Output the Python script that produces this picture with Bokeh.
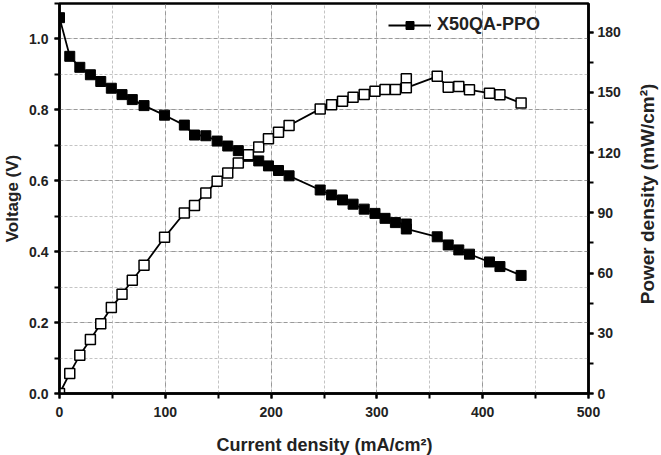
import math
from bokeh.plotting import figure
from bokeh.layouts import row, column
from bokeh.models import (Range1d, LinearAxis, SingleIntervalTicker, Legend,
                          LegendItem, ColumnDataSource, PrintfTickFormatter)
from bokeh.core.properties import value
from bokeh.embed import file_html
from bokeh.resources import INLINE

# ---- data ----
current_density = [0, 9.7, 19.2, 29.2, 39, 49, 59.1, 68.8, 79.9, 99.3, 118, 127.6,
                   138.3, 149, 159, 169, 178.5, 188.3, 197.5, 207, 217, 246.4,
                   257.2, 267.5, 277.5, 288, 298.2, 307.7, 317.5, 327.8, 327.8,
                   357, 367.4, 377.4, 387.5, 406.4, 416.3, 436.3]
voltage = [1.06, 0.951, 0.920, 0.899, 0.880, 0.861, 0.843, 0.829, 0.812, 0.785,
           0.757, 0.729, 0.727, 0.712, 0.698, 0.685, 0.669, 0.656, 0.642, 0.629,
           0.614, 0.574, 0.560, 0.546, 0.534, 0.520, 0.508, 0.494, 0.482, 0.478,
           0.464, 0.442, 0.419, 0.405, 0.393, 0.371, 0.358, 0.333]
power_density = [0, 10, 19.1, 26.9, 34.8, 42.8, 49.4, 56.4, 63.9, 77.8, 89.9, 93.7,
                 99.9, 105.8, 109.8, 114.8, 119, 122.8, 126.9, 130.2, 133.5, 141.8,
                 143.8, 145.6, 147.6, 149, 150.6, 151.5, 151.5, 156.8, 152.3, 158,
                 152.6, 153, 151.3, 149.6, 148.8, 144.7]
series_name = "X50QA-PPO"
x_label = "Current density (mA/cm²)"
y_label = "Voltage (V)"
y2_label = "Power density (mW/cm²)"

src = ColumnDataSource(dict(x=current_density, v=voltage, p=power_density))

FONT = "Liberation Sans"
TXT = "#222222"

p = figure(width=636, height=430, output_backend="svg", toolbar_location=None,
           x_range=Range1d(0, 500), y_range=Range1d(0, 1.1),
           min_border_left=58, min_border_right=48, min_border_top=3,
           min_border_bottom=37, background_fill_color="white",
           border_fill_color="white")
p.extra_y_ranges = {"power": Range1d(0, 194.3)}

p.outline_line_color = "black"
p.outline_line_width = 2.5
p.outline_line_alpha = 1

xax = p.xaxis[0]
yax = p.yaxis[0]
xax.ticker = SingleIntervalTicker(interval=100, num_minor_ticks=2)
yax.ticker = SingleIntervalTicker(interval=0.2, num_minor_ticks=2)
yax.formatter = PrintfTickFormatter(format="%.1f")

ax2 = LinearAxis(y_range_name="power",
                 ticker=SingleIntervalTicker(interval=30, num_minor_ticks=2))
p.add_layout(ax2, "right")

yax.axis_label = y_label

for ax in [xax, yax, ax2]:
    ax.axis_line_width = 2.5
    ax.axis_line_color = "black"
    ax.major_tick_line_width = 2
    ax.minor_tick_line_width = 2
    ax.major_tick_in = 0
    ax.major_tick_out = 5
    ax.minor_tick_in = 0
    ax.minor_tick_out = 5
    ax.major_label_text_font = FONT
    ax.major_label_text_font_style = "bold"
    ax.major_label_text_font_size = "14px"
    ax.major_label_text_color = TXT
    ax.axis_label_text_font = FONT
    ax.axis_label_text_font_style = "bold"
    ax.axis_label_text_font_size = "17px"
    ax.axis_label_text_color = TXT

xax.major_label_standoff = 8
yax.major_label_standoff = 6
yax.axis_label_standoff = 4
ax2.major_label_standoff = 4

# grids
for g in [p.xgrid[0], p.ygrid[0]]:
    g.grid_line_color = "#999999"
    g.grid_line_dash = "4 3"
    g.grid_line_width = 1
    g.minor_grid_line_color = "#c4c4c4"
    g.minor_grid_line_dash = "3 2"
    g.minor_grid_line_width = 1

# voltage (filled squares)
lv = p.line("x", "v", source=src, line_color="black", line_width=1.8)
sv = p.scatter("x", "v", source=src, marker="square", size=10,
               fill_color="black", line_color="black")
# power (open squares)
p.line("x", "p", source=src, y_range_name="power", line_color="black",
       line_width=1.8)
p.scatter("x", "p", source=src, y_range_name="power", marker="square", size=10,
          fill_color="white", line_color="black", line_width=1.5)

legend = Legend(items=[LegendItem(label=series_name, renderers=[lv, sv])],
                location=(329, 358), border_line_color=None,
                background_fill_alpha=0, padding=0, margin=0, spacing=0,
                glyph_width=43, glyph_height=20, label_height=20,
                label_standoff=6, label_text_font=FONT,
                label_text_font_style="bold", label_text_font_size="18px",
                label_text_color=TXT)
p.add_layout(legend, "center")


def text_strip(w, h, x, y, txt, angle, size):
    s = figure(width=w, height=h, output_backend="svg", toolbar_location=None,
               x_range=Range1d(0, w), y_range=Range1d(0, h), min_border=0,
               outline_line_color=None, background_fill_color="white",
               border_fill_color="white")
    s.axis.visible = False
    s.grid.visible = False
    s.text(x=[x], y=[y], text=[txt], angle=angle, text_align="center",
           text_baseline="middle", text_font=value(FONT),
           text_font_style="bold", text_font_size=size, text_color=TXT)
    return s


# right-hand axis title (reads bottom-to-top) and bottom axis title
p_right = text_strip(25, 430, 11, 220, y2_label, math.pi / 2, "19px")
p_bottom = text_strip(661, 25, 324, 11, x_label, 0, "18px")

layout = column(row(p, p_right, spacing=0), p_bottom, spacing=0)
open("out.html", "w").write(file_html(layout, INLINE))
